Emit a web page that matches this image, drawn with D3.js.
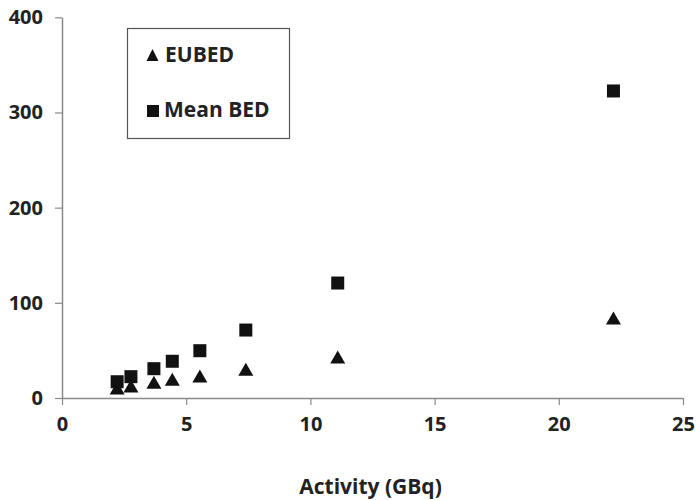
<!DOCTYPE html>
<html><head><meta charset="utf-8">
<script src="https://cdn.jsdelivr.net/npm/d3@7"></script>
<style>body{margin:0;background:#fff}svg{display:block}</style>
</head><body>
<svg id="c" width="696" height="500"></svg>
<script>
const activity = [2.22, 2.775, 3.7, 4.44, 5.55, 7.4, 11.1, 22.2];
const eubed   = [10.5, 12.6, 16.5, 19.6, 23.1, 30.2, 43.1, 84];
const meanBed = [17.1, 22.4, 30.8, 38.6, 49.7, 71.4, 120.8, 322.6];
const xTicks = [0, 5, 10, 15, 20, 25];
const yTicks = [0, 100, 200, 300, 400];
const seriesNames = ["EUBED", "Mean BED"];
const xTitle = "Activity (GBq)";

const svg = d3.select("#c");
const font = "'Open Sans', sans-serif";
const x = d3.scaleLinear().domain([0, 25]).range([62, 683]);
const y = d3.scaleLinear().domain([0, 400]).range([398, 17.3]);
const axisCol = "#8a8a8a", textCol = "#222", markCol = "#111";

// axes
const xa = svg.append("g").attr("transform", `translate(0,${y(0)})`)
  .call(d3.axisBottom(x).tickValues(xTicks).tickSizeInner(7).tickSizeOuter(0).tickPadding(12));
const ya = svg.append("g").attr("transform", `translate(${x(0)},0)`)
  .call(d3.axisLeft(y).tickValues(yTicks).tickSizeInner(7).tickSizeOuter(0).tickPadding(12));
[xa, ya].forEach(a => {
  a.select(".domain").attr("stroke", axisCol).attr("stroke-width", 1.5);
  a.selectAll(".tick line").attr("stroke", axisCol).attr("stroke-width", 1.2);
  a.selectAll(".tick text").attr("fill", textCol).attr("font-family", font)
    .attr("font-weight", "bold").attr("font-size", 20);
});

// triangle path centered on bbox center
function tri(cx, cy, w, h) {
  return `M${cx},${cy - h/2}L${cx + w/2},${cy + h/2}L${cx - w/2},${cy + h/2}Z`;
}

svg.append("g").selectAll("rect").data(activity.map((a, i) => [a, meanBed[i]]))
  .join("rect")
  .attr("x", d => x(d[0]) - 6.5).attr("y", d => y(d[1]) - 6.5)
  .attr("width", 13).attr("height", 13).attr("fill", markCol);

svg.append("g").selectAll("path").data(activity.map((a, i) => [a, eubed[i]]))
  .join("path")
  .attr("d", d => tri(x(d[0]), y(d[1]), 15, 13)).attr("fill", markCol);

// legend
svg.append("rect").attr("x", 127.5).attr("y", 28.5).attr("width", 162).attr("height", 110)
  .attr("fill", "#fff").attr("stroke", "#555").attr("stroke-width", 1.2);
svg.append("path").attr("d", tri(152.5, 55, 12, 12)).attr("fill", markCol);
svg.append("rect").attr("x", 147).attr("y", 105).attr("width", 12).attr("height", 12).attr("fill", markCol);
svg.append("text").attr("x", 165).attr("y", 62).text(seriesNames[0])
  .attr("font-family", font).attr("font-weight", "bold").attr("font-size", 21).attr("fill", textCol);
svg.append("text").attr("x", 164).attr("y", 117).text(seriesNames[1])
  .attr("font-family", font).attr("font-weight", "bold").attr("font-size", 21).attr("fill", textCol);

// x title
svg.append("text").attr("x", 370.5).attr("y", 494).attr("text-anchor", "middle").text(xTitle)
  .attr("font-family", font).attr("font-weight", "bold").attr("font-size", 21).attr("fill", textCol);
</script>
</body></html>
